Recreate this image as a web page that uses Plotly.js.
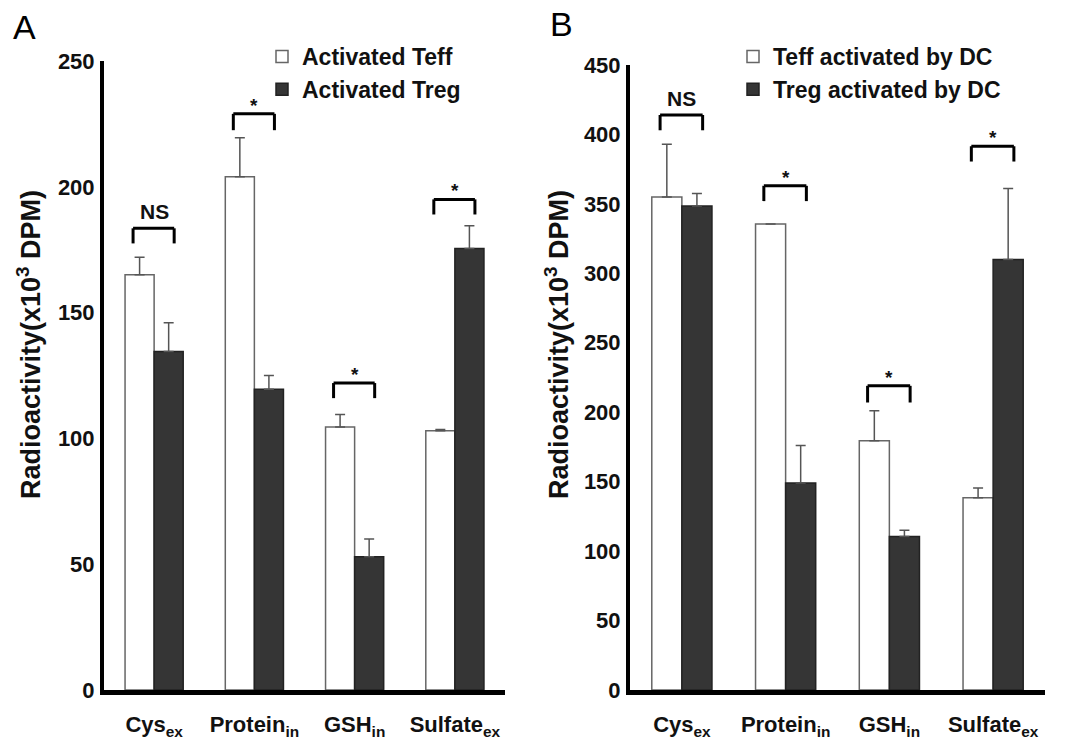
<!DOCTYPE html>
<html>
<head>
<meta charset="utf-8">
<script src="https://cdn.plot.ly/plotly-3.0.1.min.js"></script>
<style>html,body{margin:0;padding:0;background:#fff;}#chart{width:1075px;height:740px;}</style>
</head>
<body>
<div id="chart"></div>
<script>
// ---------- data ----------
const categories = ['Cys<sub>ex</sub>', 'Protein<sub>in</sub>', 'GSH<sub>in</sub>', 'Sulfate<sub>ex</sub>'];

// Panel A
const seriesA1Name = 'Activated Teff';
const seriesA2Name = 'Activated Treg';
const teffA = [165, 204, 104.5, 103];
const teffAErr = [7, 15.5, 5, 0.5];
const tregA = [134.5, 119.5, 53, 175.5];
const tregAErr = [11.5, 5.5, 7, 9];
const sigA = ['NS', '*', '*', '*'];
const bracketTopA = [183.5, 229, 122, 195];
const bracketLegA = [177.5, 222.5, 116, 189];
const yTicksA = [0, 50, 100, 150, 200, 250];

// Panel B
const seriesB1Name = 'Teff activated by DC';
const seriesB2Name = 'Treg activated by DC';
const teffB = [355, 335.5, 179.5, 138.5];
const teffBErr = [38, 0, 21.5, 7];
const tregB = [348.5, 149, 110.5, 310];
const tregBErr = [9, 27, 4.5, 51];
const sigB = ['NS', '*', '*', '*'];
const bracketTopB = [414, 363, 219, 391.5];
const bracketLegB = [403, 352, 207, 380.5];
const yTicksB = [0, 50, 100, 150, 200, 250, 300, 350, 400, 450];

const yTitle = 'Radioactivity(x10<sup>3</sup> DPM)';

// ---------- layout helpers ----------
const W = 1075, H = 740;
const fx = p => p / W;
const fy = p => 1 - p / H;
const FONT = 'Liberation Sans, Arial, Helvetica, sans-serif';
const zeros = n => new Array(n).fill(0);

function barTrace(name, y, err, xa, ya, legend, dark) {
  return {
    type: 'bar', name: name, x: categories, y: y,
    xaxis: xa, yaxis: ya, legend: legend, legendgroup: name,
    marker: {color: dark ? '#353535' : '#ffffff', line: {color: dark ? '#222222' : '#666666', width: 1.5}},
    error_y: {type: 'data', symmetric: false, array: err, arrayminus: zeros(err.length),
              color: '#555555', thickness: 1.5, width: 5},
    hoverinfo: 'skip'
  };
}

const data = [
  barTrace(seriesA1Name, teffA, teffAErr, 'x', 'y', 'legend', false),
  barTrace(seriesA2Name, tregA, tregAErr, 'x', 'y', 'legend', true),
  barTrace(seriesB1Name, teffB, teffBErr, 'x2', 'y2', 'legend2', false),
  barTrace(seriesB2Name, tregB, tregBErr, 'x2', 'y2', 'legend2', true)
];

// brackets + significance labels
const shapes = [];
const annotations = [];
function addBrackets(tops, legs, labels, xr, yr) {
  tops.forEach((t, i) => {
    const x0 = i - 0.21, x1 = i + 0.2;
    const ln = {type: 'line', xref: xr, yref: yr, line: {color: '#000', width: 3}};
    shapes.push(Object.assign({}, ln, {x0: x0, x1: x1, y0: t, y1: t}));
    shapes.push(Object.assign({}, ln, {x0: x0, x1: x0, y0: t, y1: legs[i]}));
    shapes.push(Object.assign({}, ln, {x0: x1, x1: x1, y0: t, y1: legs[i]}));
    const isNS = labels[i] === 'NS';
    annotations.push({
      xref: xr, yref: yr, x: i, y: t, text: labels[i], showarrow: false,
      xanchor: 'center', yanchor: 'bottom', yshift: isNS ? 3 : -4,
      font: {family: FONT, size: isNS ? 21 : 19, weight: 'bold', color: '#111'}
    });
  });
}
addBrackets(bracketTopA, bracketLegA, sigA, 'x', 'y');
addBrackets(bracketTopB, bracketLegB, sigB, 'x2', 'y2');

// y titles and panel letters
annotations.push({xref: 'paper', yref: 'paper', x: fx(29), y: fy(345), text: yTitle, textangle: -90,
  showarrow: false, xanchor: 'center', yanchor: 'middle', font: {family: FONT, size: 27, weight: 'bold', color: '#111'}});
annotations.push({xref: 'paper', yref: 'paper', x: fx(557), y: fy(345), text: yTitle, textangle: -90,
  showarrow: false, xanchor: 'center', yanchor: 'middle', font: {family: FONT, size: 27, weight: 'bold', color: '#111'}});
annotations.push({xref: 'paper', yref: 'paper', x: fx(24), y: fy(27), text: 'A', showarrow: false,
  xanchor: 'center', yanchor: 'middle', font: {family: FONT, size: 34, color: '#000'}});
annotations.push({xref: 'paper', yref: 'paper', x: fx(561), y: fy(24), text: 'B', showarrow: false,
  xanchor: 'center', yanchor: 'middle', font: {family: FONT, size: 34, color: '#000'}});

const tickFont = {family: FONT, size: 22, weight: 'bold', color: '#111'};
function xAxis(domain, anchor) {
  return {domain: domain, anchor: anchor, type: 'category', range: [-0.5, 3.5],
    showline: true, linewidth: 5, linecolor: '#000', showgrid: false, zeroline: false,
    ticks: 'outside', ticklen: 11, tickcolor: 'rgba(0,0,0,0)', tickfont: tickFont, fixedrange: true};
}
function yAxis(domain, anchor, range, tv) {
  return {domain: domain, anchor: anchor, range: range, tickvals: tv, ticktext: tv.map(String),
    showline: true, linewidth: 4, linecolor: '#000', showgrid: false, zeroline: false,
    ticks: 'outside', ticklen: 1, tickcolor: 'rgba(0,0,0,0)', tickfont: tickFont, fixedrange: true};
}
const legendCommon = {xanchor: 'left', yanchor: 'top', bgcolor: 'rgba(0,0,0,0)', borderwidth: 0,
  font: {family: FONT, size: 23, weight: 'bold', color: '#111'}, tracegroupgap: 0, itemclick: false, itemdoubleclick: false};

const layout = {
  width: W, height: H, margin: {l: 0, r: 0, t: 0, b: 0},
  paper_bgcolor: '#fff', plot_bgcolor: '#fff',
  barmode: 'group', bargap: 0.42, bargroupgap: 0,
  showlegend: true,
  xaxis: xAxis([fx(104), fx(505)], 'y'),
  yaxis: yAxis([fy(690), fy(61)], 'x', [0, 250], yTicksA),
  xaxis2: xAxis([fx(630), fx(1045)], 'y2'),
  yaxis2: yAxis([fy(690), fy(65)], 'x2', [0, 450], yTicksB),
  legend: Object.assign({x: fx(262), y: fy(35)}, legendCommon),
  legend2: Object.assign({x: fx(733), y: fy(35)}, legendCommon),
  shapes: shapes, annotations: annotations
};

Plotly.newPlot('chart', data, layout, {displayModeBar: false, staticPlot: true});
</script>
</body>
</html>
